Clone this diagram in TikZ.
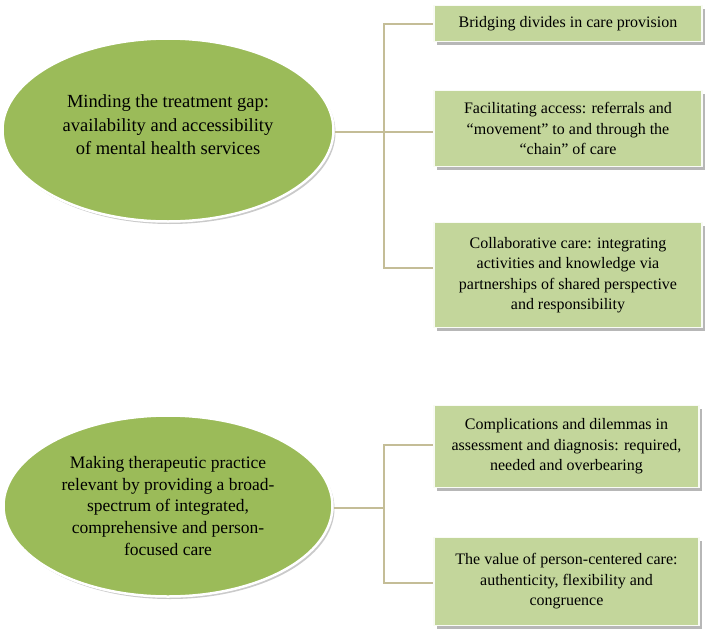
\documentclass[tikz,border=0pt]{standalone}
\usepackage{fontspec}
\setmainfont{Liberation Serif}
\usetikzlibrary{shapes.geometric,shadows}
\definecolor{ellfill}{HTML}{9BBB59}
\definecolor{boxfill}{HTML}{C3D69B}
\definecolor{conn}{HTML}{C4BD97}
\begin{document}
\begin{tikzpicture}[x=1pt,y=-1pt,
  ellnode/.style={ellipse, fill=ellfill, draw=white, line width=2.5pt, inner sep=0pt,
    align=center,
    drop shadow={shadow xshift=2pt, shadow yshift=-2.5pt, fill=black!35, opacity=0.6}},
  boxnode/.style={rectangle, fill=boxfill, draw=white!90!boxfill, line width=1.5pt, inner sep=0pt,
    align=center, font=\fontsize{16}{20.5}\selectfont,
    drop shadow={shadow xshift=2.5pt, shadow yshift=-3pt, fill=black!40, opacity=0.7}},
  link/.style={draw=conn, line width=2pt}]
\useasboundingbox (0,0) rectangle (717,629);
% top group
\node[ellnode, minimum width=331pt, minimum height=183pt, font=\fontsize{18.5}{23.3}\selectfont] (e1) at (168,130)
  {Minding the treatment gap:\\availability and accessibility\\of mental health services\\[-13pt]};
\node[boxnode, minimum width=268pt, minimum height=36pt] (b1) at (568,23.5)
  {Bridging divides in care provision};
\node[boxnode, minimum width=268pt, minimum height=76pt] (b2) at (568,128.5)
  {Facilitating access: referrals and\\``movement'' to and through the\\``chain'' of care};
\node[boxnode, minimum width=268pt, minimum height=105pt] (b3) at (568,275)
  {Collaborative care: integrating\\activities and knowledge via\\partnerships of shared perspective\\and responsibility};
\coordinate (j1) at (384,132);
\draw[link] (e1.east |- j1) -- (j1);
\draw[link] (j1) |- (b1.west);
\draw[link] (j1) -- (b2.west |- j1);
\draw[link] (j1) |- ([yshift=7pt]b3.west);
% bottom group
\node[ellnode, minimum width=329pt, minimum height=181pt, font=\fontsize{17.5}{21.7}\selectfont] (e2) at (168,506)
  {Making therapeutic practice\\relevant by providing a broad-\\spectrum of integrated,\\comprehensive and person-\\focused care};
\node[boxnode, minimum width=265pt, minimum height=82pt] (b4) at (566.5,446.5)
  {Complications and dilemmas in\\assessment and diagnosis: required,\\needed and overbearing};
\node[boxnode, minimum width=265pt, minimum height=88pt] (b5) at (566.5,581.5)
  {The value of person-centered care:\\authenticity, flexibility and\\congruence};
\coordinate (j2) at (384,508);
\draw[link] (e2.east |- j2) -- (j2);
\draw[link] (j2) |- ([yshift=2pt]b4.west);
\draw[link] (j2) |- ([yshift=-1.5pt]b5.west);
\end{tikzpicture}
\end{document}
